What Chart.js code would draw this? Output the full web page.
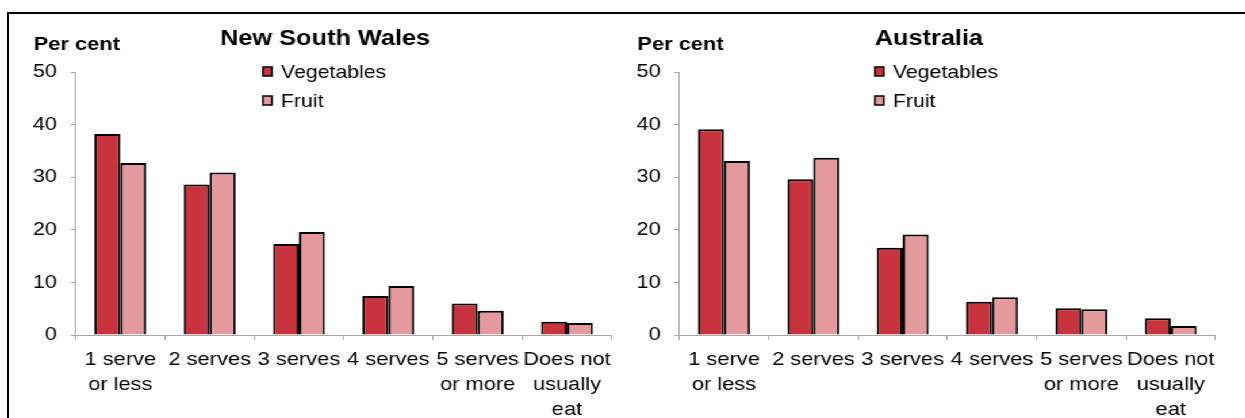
<!DOCTYPE html>
<html>
<head>
<meta charset="utf-8">
<script src="https://cdn.jsdelivr.net/npm/chart.js@4/dist/chart.umd.min.js"></script>
<style>
  html, body { margin: 0; padding: 0; background: #fff; }
  body { width: 1245px; height: 418px; position: relative; overflow: hidden; }
  #frame { position: absolute; left: 7px; top: 12px; right: -10px; bottom: -10px; border: 2px solid #000; }
  /* the reference is stretched sideways a little, so draw narrower and stretch */
  #wrap { position: absolute; left: 0; top: 0; width: 1082.6px; height: 418px;
          transform: scaleX(1.15); transform-origin: 0 0; }
  .box { position: absolute; top: 0; width: 545px; height: 418px; }
</style>
</head>
<body>
<div id="frame"></div>
<div id="wrap">
  <div class="box" style="left:0"><canvas id="nswChart"></canvas></div>
  <div class="box" style="left:525.1px"><canvas id="ausChart"></canvas></div>
</div>
<script>
const categorias = [['1 serve', 'or less'], '2 serves', '3 serves', '4 serves', ['5 serves', 'or more'], ['Does not', 'usually', 'eat']];
const nswVegetables = [38.2, 28.6, 17.3, 7.4, 6.0, 2.5];
const nswFruit = [32.7, 30.9, 19.6, 9.3, 4.6, 2.3];
const ausVegetables = [39.1, 29.6, 16.6, 6.3, 5.1, 3.2];
const ausFruit = [33.1, 33.7, 19.1, 7.2, 4.9, 1.7];
const eixoY = [0, 10, 20, 30, 40, 50];

const S = 1.15;
const FONTE = "'Liberation Sans', Arial, sans-serif";
const CINZA = '#a6a6a6';

function textos(titulo, legendaX) {
    return {
        id: 'textos',
        afterDraw(chart) {
            const ctx = chart.ctx;
            const left = chart.chartArea.left;
            ctx.save();
            ctx.fillStyle = '#000';
            ctx.textBaseline = 'alphabetic';

            ctx.font = 'bold 19px ' + FONTE;
            ctx.textAlign = 'left';
            ctx.fillText('Per cent', left - 42 / S, 50);

            ctx.font = 'bold 22px ' + FONTE;
            ctx.textAlign = 'center';
            ctx.fillText(titulo, left + 249.5 / S, 45);

            // legend
            ctx.font = '18.5px ' + FONTE;
            ctx.textAlign = 'left';
            ctx.textBaseline = 'middle';
            chart.data.datasets.forEach((ds, i) => {
                const cy = 71.5 + i * 29;
                const x = left + legendaX / S;
                ctx.fillStyle = ds.backgroundColor;
                ctx.fillRect(x, cy - 4.5, 9 / S, 9);
                ctx.strokeStyle = '#000';
                ctx.lineWidth = 1.5;
                ctx.strokeRect(x, cy - 4.5, 9 / S, 9);
                ctx.fillStyle = '#000';
                ctx.fillText(ds.label, x + 18 / S, cy + 1);
            });
            ctx.restore();
        }
    };
}

function criarGrafico(id, titulo, veg, fruta, legendaX) {
    return new Chart(document.getElementById(id), {
        type: 'bar',
        data: {
            labels: categorias,
            datasets: [
                { label: 'Vegetables', data: veg, backgroundColor: '#c8333d', borderColor: '#000', borderWidth: 2 },
                { label: 'Fruit', data: fruta, backgroundColor: '#e4999d', borderColor: '#000', borderWidth: 2 }
            ]
        },
        options: {
            responsive: true,
            maintainAspectRatio: false,
            animation: false,
            categoryPercentage: 0.58,
            barPercentage: 1.0,
            layout: { padding: { top: 72, right: 13.1, bottom: 0, left: 0 } },
            plugins: {
                legend: { display: false },
                title: { display: false },
                tooltip: { enabled: false }
            },
            scales: {
                x: {
                    z: 1,
                    grid: { offset: true, drawOnChartArea: false, drawTicks: true, tickLength: 5, color: CINZA },
                    border: { display: true, color: CINZA, width: 1 },
                    ticks: {
                        color: '#000',
                        padding: 7,
                        maxRotation: 0,
                        autoSkip: false,
                        font: { family: FONTE, size: 19, lineHeight: 1.32 }
                    },
                    afterFit(scale) { scale.height = 83; }
                },
                y: {
                    min: 0,
                    max: 50,
                    afterBuildTicks(scale) { scale.ticks = eixoY.map(v => ({ value: v })); },
                    grid: { drawOnChartArea: false, drawTicks: true, tickLength: 5 / S, color: CINZA },
                    border: { display: true, color: CINZA, width: 1 },
                    ticks: {
                        color: '#000',
                        padding: 11.9,
                        font: { family: FONTE, size: 19 }
                    },
                    afterFit(scale) { scale.width = 65.8; }
                }
            }
        },
        plugins: [textos(titulo, legendaX)]
    });
}

criarGrafico('nswChart', 'New South Wales', nswVegetables, nswFruit, 187.3);
criarGrafico('ausChart', 'Australia', ausVegetables, ausFruit, 195.5);
</script>
</body>
</html>
